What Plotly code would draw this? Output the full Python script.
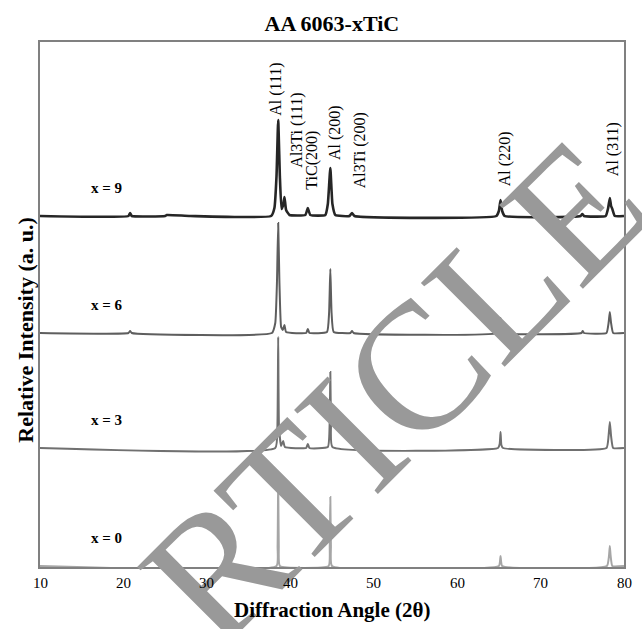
import plotly.graph_objects as go

# XRD patterns of AA 6063 with x wt.% TiC (2θ in degrees, intensity in a.u. above each baseline)
two_theta_x9 = [10, 20.6, 20.8, 21.0, 25.0, 25.2, 28.0, 37.7, 38.1, 38.35, 38.55, 38.75, 38.95, 39.15, 39.3, 39.5, 39.9,
                41.8, 42.1, 42.4, 44.2, 44.5, 44.8, 45.05, 45.4, 47.1, 47.4, 47.7, 64.7, 65.0, 65.2, 65.4, 65.7,
                74.8, 75.0, 75.2, 77.8, 78.1, 78.3, 78.45, 78.6, 78.9, 80]
intensity_x9 = [0, 0, 3, 0, 0, 1, 0, 0, 8, 40, 96, 40, 7, 11, 19, 6, 1,
                1, 8, 1, 1, 12, 48, 12, 1, 0, 3, 0, 0, 5, 16, 5, 0,
                0, 2, 0, 0, 8, 18, 10, 7, 0, 0]

two_theta_x6 = [10, 20.6, 20.8, 21.0, 37.8, 38.2, 38.4, 38.55, 38.7, 38.9, 39.1, 39.3, 39.5,
                41.9, 42.1, 42.3, 44.4, 44.65, 44.8, 44.95, 45.2, 47.2, 47.4, 47.6,
                64.8, 65.05, 65.2, 65.35, 65.6, 74.9, 75.05, 75.2, 77.9, 78.15, 78.3, 78.45, 78.7, 80]
intensity_x6 = [0, 0, 2, 0, 0, 10, 50, 110, 50, 6, 3, 8, 1,
                0, 4, 0, 1, 20, 64, 20, 1, 0, 2, 0,
                0, 6, 15, 5, 0, 0, 2, 0, 0, 10, 21, 10, 0, 0]

two_theta_x3 = [10, 38.2, 38.45, 38.55, 38.65, 38.9, 39.15, 39.35, 41.9, 42.1, 42.3, 44.5, 44.72, 44.8, 44.88, 45.05,
                64.9, 65.1, 65.2, 65.3, 65.5, 77.9, 78.15, 78.3, 78.45, 78.7, 80]
intensity_x3 = [0, 0, 20, 111, 20, 2, 7, 1, 0, 4, 0, 1, 25, 76, 25, 1,
                0, 4, 16, 3, 0, 0, 12, 26, 12, 0, 0]

two_theta_x0 = [10, 38.35, 38.48, 38.55, 38.62, 38.75, 44.6, 44.73, 44.8, 44.87, 45.0,
                65.0, 65.2, 65.4, 77.95, 78.2, 78.3, 78.4, 78.6, 80]
intensity_x0 = [0, 0, 20, 87, 20, 0, 0, 20, 69, 20, 0,
                0, 10, 0, 0, 10, 20, 10, 0, 0]

sample_labels = ["x = 0", "x = 3", "x = 6", "x = 9"]
baseline_offsets = [0, 118, 233, 350]
line_colors = ["#a6a6a6", "#707070", "#5e5e5e", "#262626"]
line_widths = [2, 2, 2, 2.6]

# Reflection labels: (text, 2θ of label, height of label foot)
peak_names = ["Al (111)", "Al3Ti (111)", "TiC(200)", "Al (200)", "Al3Ti (200)", "Al (220)", "Al (311)"]
peak_label_2theta = [38.2, 40.7, 42.5, 45.3, 48.4, 65.7, 78.7]
peak_label_foot = [448, 396, 374, 404, 376, 378, 388]

x_ticks = [10, 20, 30, 40, 50, 60, 70, 80]

patterns = [(two_theta_x0, intensity_x0), (two_theta_x3, intensity_x3),
            (two_theta_x6, intensity_x6), (two_theta_x9, intensity_x9)]

SERIF = "'Liberation Serif', 'DejaVu Serif', serif"

fig = go.Figure()
for (tt, inten), off, col, lw, name in zip(patterns, baseline_offsets, line_colors, line_widths, sample_labels):
    fig.add_trace(go.Scatter(
        x=tt, y=[v + off for v in inten], mode="lines",
        line=dict(color=col, width=lw, shape="spline", smoothing=0.4),
        name=name, showlegend=False, hoverinfo="skip"))

# Diagonal stamp across the plot (drawn first so all labels sit above it)
annotations = [dict(x=0.607, y=0.335, xref="paper", yref="paper", text="RTICLE", textangle=-45,
                    xanchor="center", yanchor="middle", showarrow=False,
                    font=dict(family=SERIF, size=181, color="#999999"))]

# Tick labels of the 2θ axis, written as annotations so they stay above the stamp
for t in x_ticks:
    annotations.append(dict(x=t, y=-0.012, xref="x", yref="paper", text=str(t),
                            xanchor="center", yanchor="top", showarrow=False,
                            font=dict(family=SERIF, size=15, color="#000000")))

for name, off in zip(sample_labels, baseline_offsets):
    annotations.append(dict(x=18.0, y=off + 28, xref="x", yref="y", text=f"<b>{name}</b>",
                            showarrow=False, font=dict(family=SERIF, size=15, color="#000000")))

for name, tt, foot in zip(peak_names, peak_label_2theta, peak_label_foot):
    annotations.append(dict(x=tt, y=foot, xref="x", yref="y", text=name, textangle=-90,
                            xanchor="center", yanchor="bottom", showarrow=False,
                            font=dict(family=SERIF, size=16, color="#000000")))

# Axis titles
annotations.append(dict(x=0.5, y=-0.082, xref="paper", yref="paper",
                        text="<b>Diffraction Angle (2θ)</b>",
                        xanchor="center", yanchor="middle", showarrow=False,
                        font=dict(family=SERIF, size=21, color="#000000")))
annotations.append(dict(x=-0.024, y=0.452, xref="paper", yref="paper",
                        text="<b>Relative Intensity (a. u.)</b>", textangle=-90,
                        xanchor="center", yanchor="middle", showarrow=False,
                        font=dict(family=SERIF, size=22, color="#000000")))

fig.update_layout(
    width=642, height=629,
    margin=dict(l=40, r=18, t=42, b=62),
    paper_bgcolor="white", plot_bgcolor="white",
    title=dict(text="<b>AA 6063-xTiC</b>", x=0.517, xanchor="center", y=0.963, yanchor="middle",
               font=dict(family=SERIF, size=22, color="#000000")),
    xaxis=dict(range=[10, 80], showticklabels=False,
               showgrid=False, zeroline=False, showline=True, linecolor="#808080", linewidth=1.5,
               mirror=True, ticks=""),
    yaxis=dict(range=[-1, 524], showticklabels=False, showgrid=False, zeroline=False,
               showline=True, linecolor="#808080", linewidth=1.5, mirror=True, ticks=""),
    annotations=annotations,
)

fig.write_html("out.html")
